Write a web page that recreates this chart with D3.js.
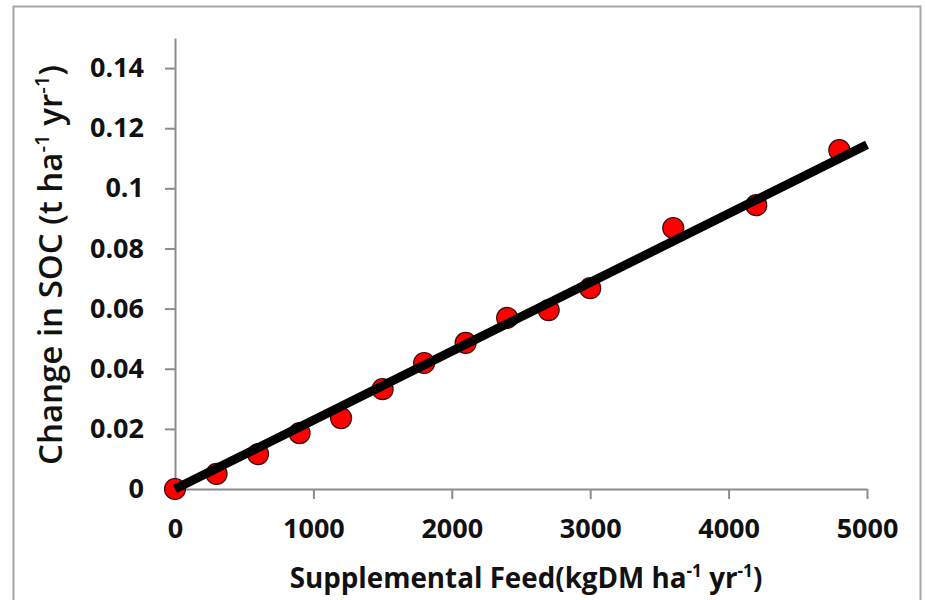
<!DOCTYPE html>
<html>
<head>
<meta charset="utf-8">
<script src="https://cdn.jsdelivr.net/npm/d3@7"></script>
<style>
  body { margin: 0; background: #fff; }
  text { font-family: "Open Sans", sans-serif; fill: #111; }
</style>
</head>
<body>
<div id="chart"></div>
<script>
// data
const feed = [0, 300, 600, 900, 1200, 1500, 1800, 2100, 2400, 2700, 3000, 3600, 4200, 4800];
const socChange = [0, 0.005, 0.0116, 0.0186, 0.0236, 0.0332, 0.0419, 0.0486, 0.0569, 0.0595, 0.0668, 0.0868, 0.0944, 0.1127];
// trend line ends, as drawn in the picture
const trendX = [0, 5000];
const trendY = [0, 0.1145];
const yTicks = [0, 0.02, 0.04, 0.06, 0.08, 0.1, 0.12, 0.14];
const xTicks = [0, 1000, 2000, 3000, 4000, 5000];

const svgWidth = 925;
const svgHeight = 600;
const margin = { top: 38, right: 58, bottom: 111, left: 175 };
const width = svgWidth - margin.left - margin.right;
const height = svgHeight - margin.top - margin.bottom;

const svg = d3.select("#chart")
  .append("svg")
  .attr("width", svgWidth)
  .attr("height", svgHeight);

// outer frame of the chart area
svg.append("rect")
  .attr("x", 13.5)
  .attr("y", 6.5)
  .attr("width", 907)
  .attr("height", 700)
  .attr("fill", "none")
  .attr("stroke", "#a6a6a6")
  .attr("stroke-width", 2);

const chartGroup = svg.append("g")
  .attr("transform", `translate(${margin.left}, ${margin.top})`);

const xScale = d3.scaleLinear().domain([0, 5000]).range([0, width]);
const yScale = d3.scaleLinear().domain([0, 0.15]).range([height, 0]);

const bottomAxis = d3.axisBottom(xScale)
  .tickValues(xTicks)
  .tickSize(10)
  .tickSizeOuter(0)
  .tickPadding(20)
  .tickFormat(d3.format("d"));

const leftAxis = d3.axisLeft(yScale)
  .tickValues(yTicks)
  .tickSize(10)
  .tickSizeOuter(0)
  .tickPadding(21)
  .tickFormat(d => String(+d.toFixed(2)));

const xAxis = chartGroup.append("g")
  .attr("transform", `translate(0, ${height})`)
  .call(bottomAxis);

const yAxis = chartGroup.append("g")
  .call(leftAxis);

[xAxis, yAxis].forEach(ax => {
  ax.selectAll("path, line")
    .attr("stroke", "#8c8c8c")
    .attr("stroke-width", 2);
  ax.selectAll("text")
    .attr("font-size", 27)
    .attr("font-weight", "bold")
    .attr("fill", "#111")
    .style("font-family", "'Open Sans', sans-serif");
});

// data points
chartGroup.selectAll("circle")
  .data(feed)
  .enter()
  .append("circle")
  .attr("cx", d => xScale(d))
  .attr("cy", (d, i) => yScale(socChange[i]))
  .attr("r", 10.5)
  .attr("fill", "#ff0000")
  .attr("stroke", "#3a0a0a")
  .attr("stroke-width", 1.2);

// trend line sits on top of the points
const line = d3.line()
  .x(d => xScale(d[0]))
  .y(d => yScale(d[1]));

chartGroup.append("path")
  .datum(trendX.map((x, i) => [x, trendY[i]]))
  .attr("d", line)
  .attr("fill", "none")
  .attr("stroke", "#000")
  .attr("stroke-width", 9);

// axis title with superscripts, sized to a target width
function axisTitle(parts, size, weight, target) {
  const t = svg.append("text")
    .attr("text-anchor", "middle")
    .attr("font-weight", weight)
    .attr("font-size", size);
  const rise = 0.38;
  let raised = false;
  parts.forEach(p => {
    if (p.sup) {
      t.append("tspan").attr("class", "sup").attr("dy", -rise).text(p.sup);
      raised = true;
    } else {
      t.append("tspan").attr("dy", raised ? rise : 0).text(p.txt);
      raised = false;
    }
  });
  // rescale so the title spans the same length as in the picture
  const apply = s => {
    t.attr("font-size", s);
    t.selectAll("tspan").each(function () {
      const sp = d3.select(this);
      const r = sp.attr("dy") === "0" ? 0 : (sp.classed("sup") ? -rise : rise);
      sp.attr("dy", r * s);
      if (sp.classed("sup")) sp.attr("font-size", s * 0.62);
    });
  };
  apply(size);
  const k = target / t.node().getComputedTextLength();
  apply(size * k);
  return t;
}

const titleParts = (a) => [{ txt: a }, { sup: "-1" }, { txt: " yr" }, { sup: "-1" }, { txt: ")" }];

axisTitle(titleParts("Supplemental Feed(kgDM ha"), 26, "bold", 473)
  .attr("x", 526)
  .attr("y", 588);

axisTitle(titleParts("Change in SOC (t ha"), 27, 600, 400)
  .attr("transform", "translate(62, 265) rotate(-90)");
</script>
</body>
</html>
